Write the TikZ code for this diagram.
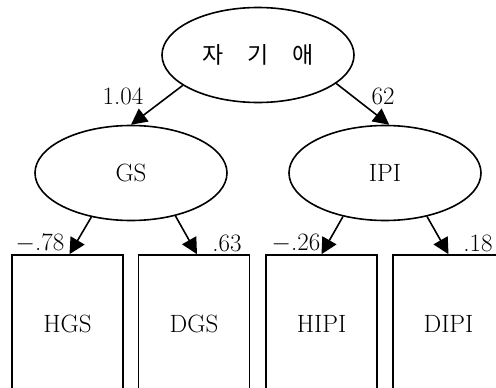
\documentclass[tikz,border=0pt]{standalone}
\usepackage{fontspec}
\newfontfamily\korfont{Noto Sans CJK KR}
\usetikzlibrary{arrows.meta,positioning,shapes.geometric}
\begin{document}
\begin{tikzpicture}[
    x=1pt, y=-1pt,
    every node/.style={
        font=\fontsize{25}{28}\selectfont,
        inner sep=0pt
    },
    latent/.style={
        ellipse, draw, line width=1.6pt,
        minimum width=192pt, minimum height=95pt
    },
    observed/.style={
        rectangle, draw, line width=1.6pt,
        minimum width=111pt, minimum height=137pt
    },
    load/.style={
        line width=1.6pt,
        -{Triangle[length=16pt,width=16pt]}
    }
]
\useasboundingbox (0,0) rectangle (496,388);
\clip (0,0) rectangle (496,388);
\node[latent] (narc) at (258,55) {\korfont\fontsize{23}{28}\selectfont 자\hspace{24pt}기\hspace{24pt}애};
\node[latent] (gs) at (131,173) {GS};
\node[latent] (ipi) at (385,173) {IPI};
\node[observed] (hgs) at (67.5,323.5) {HGS};
\node[observed] (dgs) at (194,323.5) {DGS};
\node[observed] (hipi) at (321.5,323.5) {HIPI};
\node[observed] (dipi) at (448.5,323.5) {DIPI};
\draw[load] (narc.202) -- (gs.north);
\draw[load] (narc.340) -- (ipi.85);
\draw[load] (gs.228) -- ([xshift=2pt]hgs.north);
\draw[load] (gs.316) -- ([xshift=3pt]dgs.north);
\draw[load] (ipi.226) -- (hipi.north);
\draw[load] (ipi.314) -- (dipi.north);
\node (c1) at (123,96) {1.04};
\node (c2) at (383,96) {62};
\node (c3) at (40,243) {$-$.78};
\node (c4) at (227,243) {.63};
\node (c5) at (296,243) {$-$.26};
\node (c6) at (478,243) {.18};
\end{tikzpicture}
\end{document}
